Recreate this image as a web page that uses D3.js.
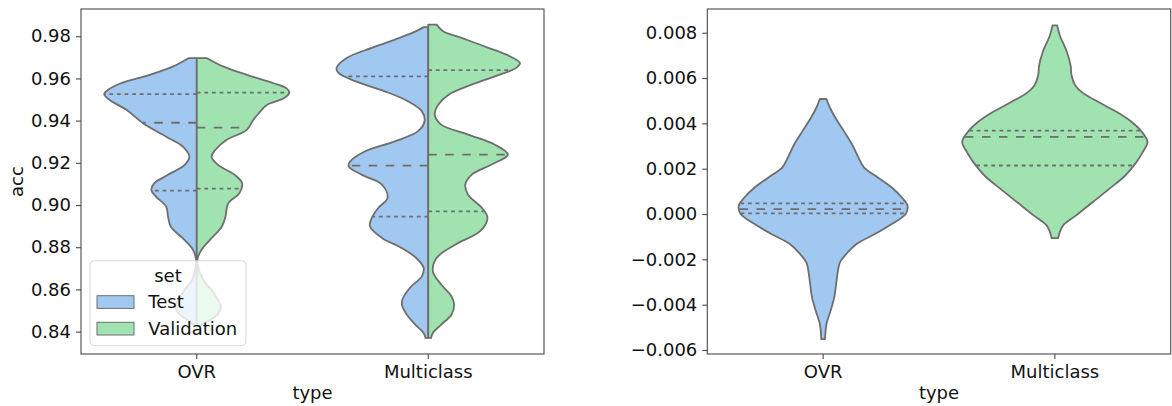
<!DOCTYPE html>
<html>
<head>
<meta charset="utf-8">
<script src="https://cdn.jsdelivr.net/npm/d3@7"></script>
<style>
  body { margin: 0; background: #fff; }
  svg { display: block; }
  text { font-family: "DejaVu Sans", sans-serif; }
</style>
</head>
<body>
<svg id="chart" width="1172" height="406"></svg>
<script>
// ---- data ----
const types = ["OVR", "Multiclass"];
const sets = ["Test", "Validation"];
const accTicks = [0.84, 0.86, 0.88, 0.90, 0.92, 0.94, 0.96, 0.98];
const diffTicks = [-0.006, -0.004, -0.002, 0.000, 0.002, 0.004, 0.006, 0.008];

// Kernel density outlines: [value, relative half-width (1 = widest)]
const ovrTestDensity = [
  [0.9696, 0.09], [0.9656, 0.26], [0.9617, 0.51], [0.9577, 0.82], [0.9545, 0.96],
  [0.9525, 1.00], [0.9498, 0.94], [0.9451, 0.76], [0.9388, 0.58], [0.9324, 0.33],
  [0.9277, 0.15], [0.9229, 0.08], [0.9190, 0.13], [0.9143, 0.31], [0.9103, 0.46],
  [0.9071, 0.49], [0.9040, 0.44], [0.8992, 0.33], [0.8945, 0.31], [0.8897, 0.28],
  [0.8834, 0.13], [0.8787, 0.04], [0.8748, 0.01], [0.8716, 0.01], [0.8645, 0.05],
  [0.8598, 0.13], [0.8550, 0.20], [0.8518, 0.23], [0.8479, 0.18], [0.8447, 0.07],
  [0.8427, 0.03]
];
const ovrValDensity = [
  [0.9696, 0.11], [0.9656, 0.29], [0.9617, 0.54], [0.9577, 0.83], [0.9553, 0.97],
  [0.9533, 1.00], [0.9506, 0.94], [0.9475, 0.76], [0.9435, 0.67], [0.9403, 0.61],
  [0.9356, 0.54], [0.9308, 0.32], [0.9261, 0.20], [0.9229, 0.16], [0.9190, 0.23],
  [0.9143, 0.41], [0.9103, 0.49], [0.9056, 0.46], [0.9008, 0.34], [0.8945, 0.31],
  [0.8897, 0.27], [0.8834, 0.14], [0.8787, 0.05], [0.8748, 0.01], [0.8716, 0.01],
  [0.8645, 0.07], [0.8598, 0.16], [0.8550, 0.23], [0.8518, 0.26], [0.8479, 0.22],
  [0.8447, 0.11], [0.8427, 0.03]
];
const mcTestDensity = [
  [0.9843, 0.05], [0.9824, 0.13], [0.9792, 0.31], [0.9745, 0.61], [0.9697, 0.88],
  [0.9650, 0.99], [0.9626, 0.97], [0.9587, 0.79], [0.9539, 0.47], [0.9492, 0.22],
  [0.9445, 0.07], [0.9397, 0.04], [0.9350, 0.11], [0.9302, 0.36], [0.9255, 0.68],
  [0.9208, 0.84], [0.9184, 0.86], [0.9144, 0.72], [0.9097, 0.50], [0.9034, 0.44],
  [0.8986, 0.54], [0.8939, 0.61], [0.8899, 0.63], [0.8844, 0.50], [0.8797, 0.29],
  [0.8749, 0.13], [0.8702, 0.05], [0.8662, 0.07], [0.8607, 0.20], [0.8551, 0.28],
  [0.8520, 0.28], [0.8480, 0.23], [0.8433, 0.14], [0.8394, 0.05], [0.8370, 0.03]
];
const mcValDensity = [
  [0.9855, 0.09], [0.9824, 0.16], [0.9792, 0.36], [0.9745, 0.65], [0.9705, 0.88],
  [0.9673, 0.99], [0.9650, 0.95], [0.9610, 0.72], [0.9571, 0.47], [0.9523, 0.22],
  [0.9476, 0.11], [0.9428, 0.07], [0.9381, 0.14], [0.9334, 0.43], [0.9286, 0.72],
  [0.9239, 0.86], [0.9191, 0.68], [0.9144, 0.47], [0.9097, 0.40], [0.9049, 0.43],
  [0.8986, 0.58], [0.8939, 0.64], [0.8876, 0.56], [0.8812, 0.29], [0.8749, 0.09],
  [0.8686, 0.05], [0.8623, 0.14], [0.8568, 0.25], [0.8528, 0.28], [0.8480, 0.25],
  [0.8433, 0.14], [0.8394, 0.05], [0.8370, 0.03]
];
const ovrDiffDensity = [
  [0.005074, 0.036], [0.00470, 0.072], [0.00426, 0.13], [0.00368, 0.22], [0.00309, 0.31],
  [0.00250, 0.38], [0.00206, 0.44], [0.00161, 0.59], [0.00117, 0.74], [0.00073, 0.85],
  [0.00037, 0.91], [0.00000, 0.89], [-0.00044, 0.74], [-0.00088, 0.56], [-0.00132, 0.36],
  [-0.00176, 0.25], [-0.00214, 0.18], [-0.00250, 0.16], [-0.00309, 0.14], [-0.00368, 0.12],
  [-0.00427, 0.08], [-0.00485, 0.036], [-0.00552, 0.02]
];
const mcDiffDensity = [
  [0.00832, 0.025], [0.00788, 0.054], [0.00715, 0.13], [0.00656, 0.17], [0.00612, 0.18],
  [0.00567, 0.22], [0.00538, 0.29], [0.00494, 0.47], [0.00450, 0.67], [0.00406, 0.83],
  [0.00362, 0.94], [0.00318, 1.00], [0.00274, 0.95], [0.00229, 0.88], [0.00170, 0.76],
  [0.00112, 0.59], [0.00053, 0.41], [-0.00006, 0.23], [-0.00050, 0.09], [-0.00079, 0.054],
  [-0.00106, 0.036]
];

// quartiles [Q1, median, Q3]
const ovrTestQuartiles = [0.9068, 0.9390, 0.9526];
const ovrValQuartiles = [0.9078, 0.9367, 0.9533];
const mcTestQuartiles = [0.8945, 0.9187, 0.9610];
const mcValQuartiles = [0.8970, 0.9239, 0.9639];
const ovrDiffQuartiles = [0.00003, 0.00022, 0.00047];
const mcDiffQuartiles = [0.00214, 0.00340, 0.00368];

// ---- styling ----
const colors = { Test: "#a1c8f0", Validation: "#a1e3b0" };
const edge = "#6e6e6e";
const spine = "#4a4a4a";
const fontSize = 18;

const svg = d3.select("#chart");

// panels
const left = { x0: 81, x1: 544, y0: 9, y1: 354 };
const right = { x0: 707.3, x1: 1170.7, y0: 9, y1: 354 };

const xLeft = d3.scaleBand().domain(types).range([left.x0, left.x1]).padding(0);
const xRight = d3.scaleBand().domain(types).range([right.x0, right.x1]).padding(0);
const yLeft = d3.scaleLinear().domain([0.8294, 0.9929]).range([left.y1, left.y0]);
const yRight = d3.scaleLinear().domain([-0.006176, 0.009046]).range([right.y1, right.y0]);
const wLeft = d3.scaleLinear().domain([0, 1]).range([0, 0.4 * xLeft.bandwidth()]);
const wRight = d3.scaleLinear().domain([0, 1]).range([0, 0.4 * xRight.bandwidth()]);

function widthAt(profile, v) {
  for (let i = 0; i < profile.length - 1; i++) {
    const a = profile[i], b = profile[i + 1];
    if (v <= a[0] && v >= b[0]) {
      const t = (a[0] - v) / (a[0] - b[0]);
      return a[1] + t * (b[1] - a[1]);
    }
  }
  return 0;
}

// side: -1 left half, +1 right half, 0 full violin
function drawViolin(g, profile, quartiles, cx, side, y, w, color) {
  const area = d3.area()
    .curve(d3.curveCatmullRom.alpha(0.5))
    .y(d => y(d[0]));
  if (side === 0) {
    area.x0(d => cx - w(d[1])).x1(d => cx + w(d[1]));
  } else {
    area.x0(cx).x1(d => cx + side * w(d[1]));
  }
  g.append("path")
    .datum(profile)
    .attr("d", area)
    .attr("fill", color)
    .attr("stroke", edge)
    .attr("stroke-width", 1.8)
    .attr("stroke-linejoin", "round");

  quartiles.forEach((q, i) => {
    const hw = w(widthAt(profile, q));
    const xa = side === 0 ? cx - hw : cx;
    const xb = side === 0 ? cx + hw : cx + side * hw;
    g.append("line")
      .attr("x1", side === -1 ? cx : xa)
      .attr("x2", side === -1 ? cx - hw : xb)
      .attr("y1", y(q)).attr("y2", y(q))
      .attr("stroke", edge)
      .attr("stroke-width", 1.8)
      .attr("stroke-dasharray", i === 1 ? "8.5,8.5" : "3.8,3.8");
  });
}

function drawAxes(panel, x, y, ticks, fmt) {
  const gy = svg.append("g")
    .attr("transform", `translate(${panel.x0},0)`)
    .call(d3.axisLeft(y).tickValues(ticks).tickFormat(fmt).tickSize(5).tickPadding(5).tickSizeOuter(0));
  const gx = svg.append("g")
    .attr("transform", `translate(0,${panel.y1})`)
    .call(d3.axisBottom(x).tickSize(5).tickPadding(6.5).tickSizeOuter(0));
  [gy, gx].forEach(g => {
    g.select(".domain").remove();
    g.selectAll(".tick line").attr("stroke", spine).attr("stroke-width", 1.1);
    g.selectAll(".tick text").attr("fill", "#111").attr("font-size", fontSize)
      .attr("font-family", "DejaVu Sans, sans-serif");
  });
  svg.append("rect")
    .attr("x", panel.x0).attr("y", panel.y0)
    .attr("width", panel.x1 - panel.x0).attr("height", panel.y1 - panel.y0)
    .attr("fill", "none").attr("stroke", spine).attr("stroke-width", 1.1);
  svg.append("text")
    .attr("x", (panel.x0 + panel.x1) / 2).attr("y", 398.5)
    .attr("text-anchor", "middle").attr("font-size", fontSize).attr("fill", "#111")
    .text("type");
}

// ---- left panel: split violins ----
const gL = svg.append("g");
const cOVR = xLeft("OVR") + xLeft.bandwidth() / 2;
const cMC = xLeft("Multiclass") + xLeft.bandwidth() / 2;
drawViolin(gL, ovrTestDensity, ovrTestQuartiles, cOVR, -1, yLeft, wLeft, colors.Test);
drawViolin(gL, ovrValDensity, ovrValQuartiles, cOVR, 1, yLeft, wLeft, colors.Validation);
drawViolin(gL, mcTestDensity, mcTestQuartiles, cMC, -1, yLeft, wLeft, colors.Test);
drawViolin(gL, mcValDensity, mcValQuartiles, cMC, 1, yLeft, wLeft, colors.Validation);
drawAxes(left, xLeft, yLeft, accTicks, d3.format(".2f"));

svg.append("text")
  .attr("transform", `translate(23,${(left.y0 + left.y1) / 2}) rotate(-90)`)
  .attr("text-anchor", "middle").attr("font-size", fontSize).attr("fill", "#111")
  .text("acc");

// ---- right panel: differences ----
const gR = svg.append("g");
drawViolin(gR, ovrDiffDensity, ovrDiffQuartiles, xRight("OVR") + xRight.bandwidth() / 2, 0, yRight, wRight, colors.Test);
drawViolin(gR, mcDiffDensity, mcDiffQuartiles, xRight("Multiclass") + xRight.bandwidth() / 2, 0, yRight, wRight, colors.Validation);
drawAxes(right, xRight, yRight, diffTicks, d3.format(".3f"));

// ---- legend ----
const lg = svg.append("g");
lg.append("rect")
  .attr("x", 90).attr("y", 260.7).attr("width", 156).attr("height", 85).attr("rx", 4)
  .attr("fill", "#fff").attr("fill-opacity", 0.8)
  .attr("stroke", "#cccccc").attr("stroke-opacity", 0.8).attr("stroke-width", 1);
lg.append("text").attr("x", 168).attr("y", 281.7).attr("text-anchor", "middle")
  .attr("font-size", fontSize).attr("fill", "#111").text("set");
sets.forEach((s, i) => {
  const top = 295.7 + i * 26.6;
  lg.append("rect").attr("x", 97).attr("y", top).attr("width", 37).attr("height", 12.7)
    .attr("fill", colors[s]).attr("stroke", edge).attr("stroke-width", 1);
  lg.append("text").attr("x", 148.3).attr("y", top + 12.6)
    .attr("font-size", fontSize).attr("fill", "#111").text(s);
});
</script>
</body>
</html>
